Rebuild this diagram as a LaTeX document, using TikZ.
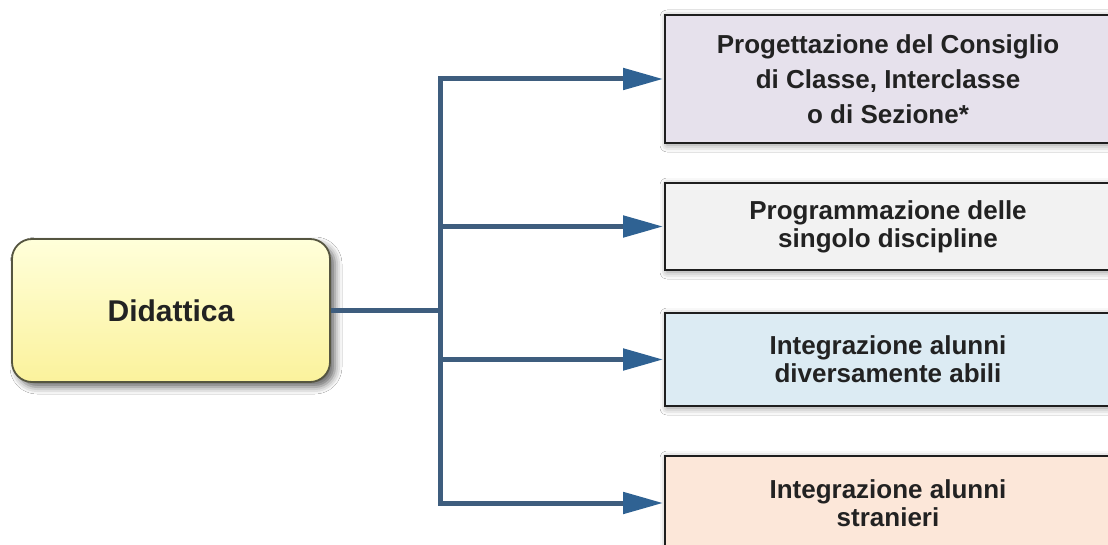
\documentclass[tikz,border=0pt]{standalone}
\usepackage{fontspec}
\setmainfont{Liberation Sans}
\usetikzlibrary{arrows.meta,shadows.blur}

\definecolor{linkblue}{HTML}{3E5D7E}
\definecolor{tipblue}{HTML}{2F6293}
\definecolor{boxline}{HTML}{1E1E1E}
\definecolor{txt}{HTML}{222222}
\definecolor{lavender}{HTML}{E6E1EC}
\definecolor{paleGrey}{HTML}{F2F2F2}
\definecolor{paleBlue}{HTML}{DCEBF3}
\definecolor{peach}{HTML}{FCE7D9}
\definecolor{yelTop}{HTML}{FFFFDA}
\definecolor{yelBot}{HTML}{FBF29C}
\definecolor{oliveLine}{HTML}{555540}

\tikzset{
  x=1pt, y=-1pt,
  rootbox/.style={draw=oliveLine, line width=1.8pt, rounded corners=20pt,
    top color=yelTop, bottom color=yelBot, inner sep=0pt,
    minimum width=318pt, minimum height=143pt,
    text=txt, font=\fontsize{30}{34}\selectfont\bfseries,
    blur shadow={shadow xshift=5pt, shadow yshift=-5pt, shadow blur radius=7pt, shadow opacity=60}},
  leafbox/.style={draw=boxline, line width=1.8pt, inner sep=0pt,
    minimum width=446pt, text=txt, align=center,
    font=\fontsize{26}{28}\selectfont\bfseries,
    blur shadow={shadow xshift=2pt, shadow yshift=-2pt, shadow blur radius=7pt, shadow opacity=45}},
  link/.style={draw=linkblue, line width=5pt},
  arrowlink/.style={link, -{Triangle[length=40pt,width=21pt,fill=tipblue,color=tipblue]}, shorten >=1pt},
}

\begin{document}
\begin{tikzpicture}
  \useasboundingbox (0,0) rectangle (1108,545);
  \clip (0,0) rectangle (1108,545);
  \fill[white] (0,0) rectangle (1108,545);

  % root
  \node[rootbox] (did) at (171,310.5) {Didattica};

  % targets
  \node[leafbox, fill=lavender, minimum height=128pt,
        font=\fontsize{26}{35}\selectfont\bfseries] (b1) at (888,79)
    {Progettazione del Consiglio\\di Classe, Interclasse\\o di Sezione*};
  \node[leafbox, fill=paleGrey, minimum height=87pt] (b2) at (888,226.5)
    {Programmazione delle\\singolo discipline};
  \node[leafbox, fill=paleBlue, minimum height=93pt] (b3) at (888,359.5)
    {Integrazione alunni\\diversamente abili};
  \node[leafbox, fill=peach, minimum height=94pt] (b4) at (888,503)
    {Integrazione alunni\\stranieri};

  % trunk junctions
  \coordinate (hub) at (440,310.5);
  \coordinate (j1) at (hub |- b1.west);
  \coordinate (j2) at (hub |- b2.west);
  \coordinate (j3) at (hub |- b3.west);
  \coordinate (j4) at (hub |- b4.west);

  \draw[link] (did.east) -- (hub);
  \draw[link, line cap=rect] (j1) -- (j4);
  \foreach \k in {1,2,3,4}
    \draw[arrowlink] (j\k) -- (b\k.west);
\end{tikzpicture}
\end{document}
